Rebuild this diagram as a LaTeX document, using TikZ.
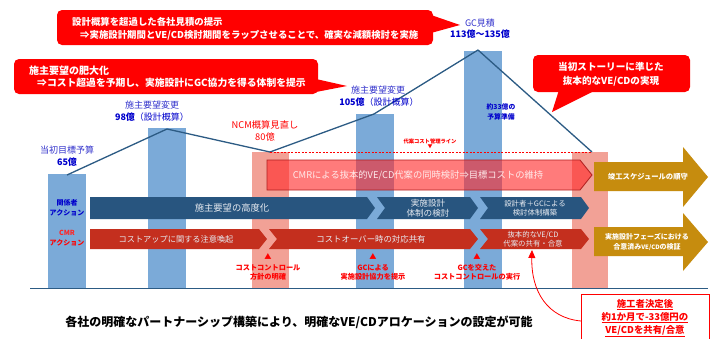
\documentclass[tikz,border=0pt]{standalone}
\usepackage{fontspec}
\setmainfont{Noto Sans CJK JP}
\usetikzlibrary{arrows.meta}
\definecolor{barblue}{HTML}{7BAAD8}
\definecolor{barpink}{HTML}{F2A196}
\definecolor{lineblue}{HTML}{2C5B84}
\definecolor{rowblue}{HTML}{28557F}
\definecolor{rowred}{HTML}{C42F1E}
\definecolor{goldc}{HTML}{C68C0E}
\definecolor{callred}{HTML}{FF0000}
\definecolor{lblblue}{HTML}{3333CC}
\definecolor{numblue}{HTML}{0000CC}
\definecolor{cmrfill}{HTML}{FF2A2A}
\definecolor{cmrborder}{HTML}{B02020}
\definecolor{rowtext}{HTML}{E6EAF0}
\tikzset{
  txt/.style={inner sep=0pt, align=center},
  calltxt/.style={txt, text=white, font=\fontsize{9.4}{11}\selectfont\bfseries, anchor=west},
  bluelbl/.style={txt, text=lblblue, font=\fontsize{9}{11}\selectfont},
  bluenum/.style={txt, text=numblue, font=\fontsize{9}{11}\selectfont\bfseries},
  rowlbl/.style={txt, text=rowtext, font=\fontsize{9.3}{11}\selectfont},
  smallrow/.style={txt, text=rowtext, font=\fontsize{7.4}{9.5}\selectfont},
  redmark/.style={txt, text=callred, font=\fontsize{7.2}{9}\selectfont\bfseries},
  goldtxt/.style={txt, text=white, font=\fontsize{7.3}{10}\selectfont\bfseries},
}
\begin{document}
\begin{tikzpicture}[x=1pt,y=-1pt]
\useasboundingbox[fill=white] (0,0) rectangle (721,338);
% bars
\fill[barblue] (48,174) rectangle (86,288);
\fill[barblue] (148,128) rectangle (186,288);
\fill[barpink] (252,152) rectangle (289,288);
\fill[barblue] (356,114) rectangle (394,288);
\fill[barblue] (464,51) rectangle (502,288);
\fill[barpink] (572,152) rectangle (608,288);
% baseline
\coordinate (bl) at (30,288);
\coordinate (br) at (708,288);
\draw[lineblue, line width=1pt] (bl) -- (br);
% cost line
\coordinate (c1) at (67,175);
\coordinate (c2) at (167,129);
\coordinate (c3) at (270,152);
\coordinate (c4) at (374,114);
\coordinate (c5) at (478,50);
\coordinate (c6) at (592,152);
\draw[lineblue, line width=1.3pt, line join=round] (c1)--(c2)--(c3)--(c4)--(c5)--(c6);
\draw[callred, dash pattern=on 2pt off 1.5pt, line width=0.6pt] (c3) -- (c6);
% CMR translucent bar
\path[fill=cmrfill, fill opacity=0.62, draw=cmrborder, line width=0.8pt]
  (267,160)--(580,160)--(592,175)--(580,190)--(267,190)--cycle;
\node[txt, text=white!92!red, font=\fontsize{9.3}{11}\selectfont] (cmr) at (418,175)
  {CMRによる抜本的VE/CD代案の同時検討⇒目標コストの維持};
% row 1 (blue)
\fill[rowblue] (90,197)--(367,197)--(375,208)--(367,219)--(90,219)--cycle;
\fill[rowblue] (377,197)--(470,197)--(478,208)--(470,219)--(377,219)--(385,208)--cycle;
\fill[rowblue] (480,197)--(581,197)--(589,208)--(581,219)--(480,219)--(488,208)--cycle;
\node[rowlbl] (r1a) at (232,208) {施主要望の高度化};
\node[smallrow, font=\fontsize{8.6}{10}\selectfont] (r1b) at (428,208) {実施設計\\体制の検討};
\node[smallrow] (r1c) at (535,208) {設計者＋GCによる\\検討体制構築};
% row 2 (red)
\fill[rowred] (90,229)--(259,229)--(267,239)--(259,249)--(90,249)--cycle;
\fill[rowred] (269,229)--(470,229)--(478,239)--(470,249)--(269,249)--(277,239)--cycle;
\fill[rowred] (480,229)--(581,229)--(589,239)--(581,249)--(480,249)--(488,239)--cycle;
\node[rowlbl, font=\fontsize{8.2}{10}\selectfont] (r2a) at (176,239) {コストアップに関する注意喚起};
\node[rowlbl, font=\fontsize{8.4}{10}\selectfont] (r2b) at (371,239) {コストオーバー時の対応共有};
\node[smallrow] (r2c) at (533,239) {抜本的なVE/CD\\代案の共有・合意};
% gold arrows
\fill[goldc] (594,162)--(683,162)--(683,147)--(708,177)--(683,207)--(683,191)--(594,191)--cycle;
\fill[goldc] (594,227)--(683,227)--(683,213)--(708,242)--(683,271)--(683,256)--(594,256)--cycle;
\node[goldtxt] (g1) at (648,177) {竣工スケジュールの順守};
\node[goldtxt, font=\fontsize{7}{10}\selectfont\bfseries] (g2) at (647,242) {実施設計フェーズにおける\\合意済み{\fontsize{6}{8}\selectfont VE/CD}の検証};
% left labels
\node[txt, text=numblue, font=\fontsize{7}{9.5}\selectfont\bfseries] (kan) at (67,208) {関係者\\アクション};
\node[txt, text=callred, font=\fontsize{7}{9.5}\selectfont\bfseries] (cmra) at (67,238) {{\color{red!85!white}CMR}\\アクション};
% value labels
\node[bluelbl] (l1a) at (67,150) {当初目標予算};
\node[bluenum] (l1b) at (67,162) {65億};
\node[bluelbl] (l2a) at (152,105) {施主要望変更};
\node[bluenum] (l2b) at (152,117) {98億\mdseries（設計概算）};
\node[txt, text=red, font=\fontsize{9.3}{11}\selectfont] (l3a) at (265,125) {NCM概算見直し};
\node[txt, text=red, font=\fontsize{9.3}{11}\selectfont] (l3b) at (265,137) {80億};
\node[bluelbl] (l4a) at (378,90) {施主要望変更};
\node[bluenum] (l4b) at (379,102) {105億\mdseries（設計概算）};
\node[bluelbl] (l5a) at (480,23) {GC見積};
\node[bluenum] (l5b) at (480,34) {113億～135億};
\node[txt, text=numblue, font=\fontsize{6.8}{10}\selectfont\bfseries] (l6) at (501,112) {約33億の\\予算準備};
\node[txt, text=callred, font=\fontsize{5.3}{6}\selectfont\bfseries] (dl) at (430,141) {代案コスト管理ライン};
\node[txt, text=callred, font=\fontsize{5}{6}\selectfont] (dlm) at (430,147) {▼};
% markers under row 2
\node[redmark] (m1t) at (268,257) {▲};
\node[redmark] (m1) at (268,272) {コストコントロール\\方針の明確};
\node[redmark] (m2t) at (373,257) {▲};
\node[redmark] (m2) at (373,272) {GCによる\\実施設計協力を提示};
\node[redmark] (m3t) at (477,257) {▲};
\node[redmark] (m3) at (477,272) {GCを交えた\\コストコントロールの実行};
% bottom text
\node[txt, font=\fontsize{12}{14}\selectfont\bfseries] (bottom) at (299,322)
  {各社の明確なパートナーシップ構築により、明確なVE/CDアロケーションの設定が可能};
% result box
\draw[callred, line width=1pt] (581,340) -- (581,294) -- (709,294) -- (709,340);
\node[txt, text=callred, font=\fontsize{9.4}{13}\selectfont\bfseries] (res) at (645,318)
  {\underline{施工者決定後}\\\underline{約1か月で-33億円の}\\\underline{VE/CDを共有/合意}};
\coordinate (ra) at (581,321);
\coordinate (rt) at (532,250);
\draw[callred, line width=0.8pt, -{Triangle[length=8pt,width=7pt]}] (ra) .. controls (548,318) and (531,292) .. (rt);
% callouts
\fill[callred, rounded corners=5pt] (57,10) rectangle (433,45);
\fill[callred] (431,15) -- (460,25) -- (431,33) -- cycle;
\node[calltxt] (co1a) at (72,22) {設計概算を超過した各社見積の提示};
\node[calltxt] (co1b) at (80,35) {⇒実施設計期間とVE/CD検討期間をラップさせることで、確実な減額検討を実施};
\fill[callred, rounded corners=5pt] (14,59) rectangle (318,94);
\fill[callred] (316,79) -- (347,86) -- (316,92) -- cycle;
\node[calltxt, font=\fontsize{10}{12}\selectfont\bfseries] (co2a) at (29,71) {施主要望の肥大化};
\node[calltxt, font=\fontsize{9.8}{12}\selectfont\bfseries] (co2b) at (37,83) {⇒コスト超過を予期し、実施設計にGC協力を得る体制を提示};
\fill[callred, rounded corners=5pt] (533,55) rectangle (690,92);
\fill[callred] (559,90) -- (552,112) -- (596,90) -- cycle;
\node[txt, text=white, font=\fontsize{9.6}{14}\selectfont\bfseries] (co3) at (611,74) {当初ストーリーに準じた\\抜本的なVE/CDの実現};
\end{tikzpicture}
\end{document}
